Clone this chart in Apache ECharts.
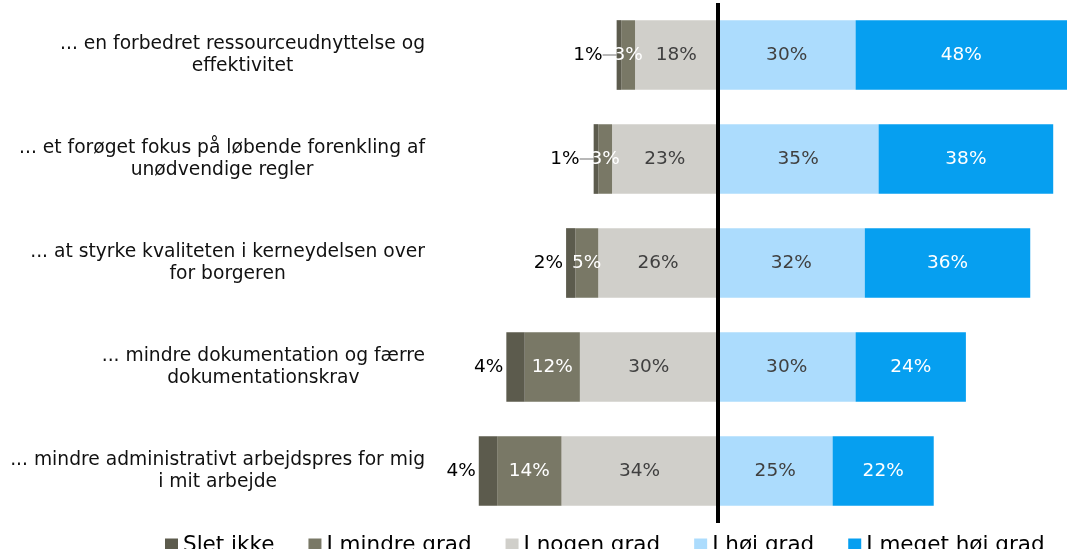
<!DOCTYPE html>
<html lang="da">
<head>
    <meta charset="UTF-8">
    <script src="https://cdn.jsdelivr.net/npm/echarts@6.0.0/dist/echarts.min.js"></script>
    <title>Forenkling</title>
    <style>
        html, body { margin: 0; padding: 0; background: #fff; }
    </style>
</head>
<body>
    <div id="chart" style="width: 1067px;height:549px;"></div>
    <script>
        // data
        var categories = [
            '... en forbedret ressourceudnyttelse og\neffektivitet',
            '... et forøget fokus på løbende forenkling af\nunødvendige regler',
            '... at styrke kvaliteten i kerneydelsen over\nfor borgeren',
            '... mindre dokumentation og færre\ndokumentationskrav',
            '... mindre administrativt arbejdspres for mig\ni mit arbejde'
        ];
        var legendNames = ['Slet ikke', 'I mindre grad', 'I nogen grad', 'I høj grad', 'I meget høj grad'];
        var sletIkke = [1, 1, 2, 4, 4];
        var mindreGrad = [3, 3, 5, 12, 14];
        var nogenGrad = [18, 23, 26, 30, 34];
        var hojGrad = [30, 35, 32, 30, 25];
        var megetHojGrad = [48, 38, 36, 24, 22];

        var chart = echarts.init(document.getElementById('chart'));
        var font = 'DejaVu Sans';

        function neg(arr) {
            return arr.map(function (v) { return -v; });
        }
        function pct(p) {
            return Math.abs(p.value) + '%';
        }
        function insideLabel(color) {
            return {
                show: true,
                position: 'inside',
                formatter: pct,
                color: color,
                fontFamily: font,
                fontSize: 18.5
            };
        }

        // thin "slet ikke" segments get their label pushed out with a leader line
        var sletData = sletIkke.map(function (v) {
            return { value: -v, labelLine: { show: v <= 1 } };
        });

        var option = {
            animation: false,
            legend: {
                data: legendNames,
                left: 160,
                top: 529,
                icon: 'rect',
                itemWidth: 13,
                itemHeight: 13,
                itemGap: 34,
                textStyle: { fontFamily: font, fontSize: 21.5, color: '#000' }
            },
            grid: { left: 442, right: 0, top: 3, bottom: 26 },
            xAxis: {
                type: 'value',
                min: -60,
                max: 76,
                show: false
            },
            yAxis: {
                type: 'category',
                data: categories,
                inverse: true,
                axisLine: { show: false, onZero: false },
                axisTick: { show: false },
                axisLabel: {
                    margin: 17,
                    align: 'right',
                    formatter: function (v) {
                        return v.split('\n').map(function (s) { return '{c|' + s + '}'; }).join('\n');
                    },
                    rich: {
                        c: { align: 'center', fontFamily: font, fontSize: 18.7, lineHeight: 22, color: '#111' }
                    }
                }
            },
            series: [
                {
                    name: 'I nogen grad',
                    type: 'bar',
                    stack: 'all',
                    barCategoryGap: '33%',
                    data: neg(nogenGrad),
                    itemStyle: { color: '#d0cfca' },
                    label: insideLabel('#404040'),
                    markLine: {
                        silent: true,
                        symbol: 'none',
                        label: { show: false },
                        lineStyle: { color: '#000', width: 4, type: 'solid' },
                        data: [{ xAxis: 0 }]
                    }
                },
                {
                    name: 'I mindre grad',
                    type: 'bar',
                    stack: 'all',
                    data: neg(mindreGrad),
                    itemStyle: { color: '#797866' },
                    label: insideLabel('#fff')
                },
                {
                    name: 'Slet ikke',
                    type: 'bar',
                    stack: 'all',
                    data: sletData,
                    itemStyle: { color: '#5c5b4d' },
                    label: {
                        show: true,
                        position: 'left',
                        distance: 3,
                        formatter: pct,
                        color: '#000',
                        fontFamily: font,
                        fontSize: 18.5
                    },
                    labelLine: {
                        lineStyle: { color: '#a0a0a0', width: 1.5 }
                    },
                    labelLayout: function (p) {
                        if (sletIkke[p.dataIndex] <= 1) {
                            return { dx: -11 };
                        }
                        return {};
                    }
                },
                {
                    name: 'I høj grad',
                    type: 'bar',
                    stack: 'all',
                    data: hojGrad,
                    itemStyle: { color: '#acdcfd' },
                    label: insideLabel('#404040')
                },
                {
                    name: 'I meget høj grad',
                    type: 'bar',
                    stack: 'all',
                    data: megetHojGrad,
                    itemStyle: { color: '#069ff0' },
                    label: insideLabel('#fff')
                }
            ]
        };

        chart.setOption(option);
    </script>
</body>
</html>
